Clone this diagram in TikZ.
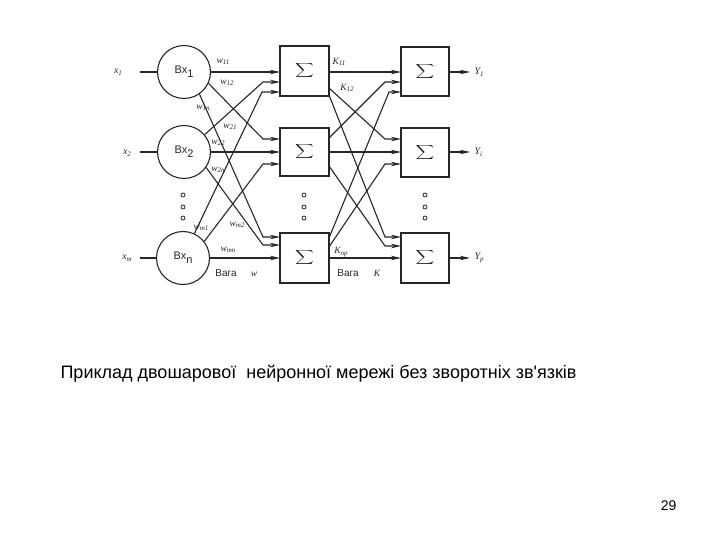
\documentclass[tikz,border=0pt]{standalone}
\usepackage{fontspec}
\usepackage{graphicx}
\setmainfont{Liberation Sans}
\newfontfamily\serifit{Liberation Serif}
\newfontfamily\capfont{Liberation Sans}
\usetikzlibrary{arrows.meta}
\newcommand{\sigsym}{\scalebox{1.3}[1.0]{$\displaystyle\sum$}}
\begin{document}
\begin{tikzpicture}[x=1pt,y=-1pt, line width=1.1pt, color=black!85,
  neuron/.style={circle, draw, minimum size=53pt, inner sep=0pt, font=\fontsize{11}{12}\selectfont},
  sumbox/.style={draw, minimum width=49pt, minimum height=49pt, inner sep=0pt, font=\fontsize{16}{18}\selectfont},
  conn/.style={-{Stealth[length=10pt,width=4.5pt]}},
  wlab/.style={font=\serifit\itshape\fontsize{9.5}{10}\selectfont, inner sep=0pt},
  iolab/.style={font=\serifit\itshape\fontsize{10}{11}\selectfont, inner sep=0pt},
  slab/.style={font=\fontsize{10}{11}\selectfont, inner sep=0pt},
  dotc/.style={circle, draw, line width=0.8pt, minimum size=4pt, inner sep=0pt}
]
\useasboundingbox (0,0) rectangle (720,540);

% input neurons
\node[neuron] (c1) at (184,72) {Bx\raisebox{-4pt}{1}};
\node[neuron] (c2) at (184,152) {Bx\raisebox{-4pt}{2}};
\node[neuron] (c3) at (183,258) {Bx\raisebox{-4pt}{n}};

% hidden sums
\node[sumbox, minimum height=50pt] (h1) at (304.5,71) {\sigsym};
\node[sumbox, minimum height=48pt] (h2) at (304.5,152) {\sigsym};
\node[sumbox, minimum height=50pt] (h3) at (304.5,258) {\sigsym};

% output sums
\node[sumbox, minimum width=48pt] (o1) at (425,71.5) {\sigsym};
\node[sumbox, minimum width=48pt] (o2) at (425,152.5) {\sigsym};
\node[sumbox, minimum width=48pt, minimum height=50pt] (o3) at (425,258) {\sigsym};

% input labels and lines
\node[iolab] (x1) at (118,72) {x\raisebox{-2pt}{\scriptsize 1}};
\node[iolab] (x2) at (127,153) {x\raisebox{-2pt}{\scriptsize 2}};
\node[iolab] (xm) at (127,258) {x\raisebox{-2pt}{\scriptsize m}};
\coordinate (x1s) at (140,72);
\coordinate (x2s) at (140,152);
\coordinate (xms) at (140,258);
\draw (x1s) -- (c1.west);
\draw (x2s) -- (c2.west);
\draw (xms) -- (c3.west);

% entry points of hidden boxes
\coordinate (h1a) at (280,72);  \coordinate (h1b) at (280,82);  \coordinate (h1c) at (280,92);
\coordinate (h2a) at (280,139); \coordinate (h2b) at (280,152); \coordinate (h2c) at (280,164);
\coordinate (h3a) at (280,237); \coordinate (h3b) at (280,245); \coordinate (h3c) at (280,258);
% entry points of output boxes
\coordinate (o1a) at (401,72);  \coordinate (o1b) at (401,82);  \coordinate (o1c) at (401,92);
\coordinate (o2a) at (401,139); \coordinate (o2b) at (401,152); \coordinate (o2c) at (401,164);
\coordinate (o3a) at (401,237); \coordinate (o3b) at (401,246); \coordinate (o3c) at (401,258);
% exit points of hidden boxes
\coordinate (h1x) at (329,72);  \coordinate (h1y) at (329,88);  \coordinate (h1z) at (329,95);
\coordinate (h2x) at (329,138); \coordinate (h2y) at (329,152); \coordinate (h2z) at (329,166);
\coordinate (h3x) at (329,238); \coordinate (h3y) at (329,247); \coordinate (h3z) at (329,258);

% first layer connections
\draw[conn] (c1.east |- h1a) -- (h1a);
\draw[conn] (c1.-25) -- ([xshift=-17pt]h2a) -- (h2a);
\draw[conn] (c1.-55) -- ([xshift=-17pt]h3a) -- (h3a);
\draw[conn] (c2.40) -- ([xshift=-17pt]h1b) -- (h1b);
\draw[conn] (c2.east |- h2b) -- (h2b);
\draw[conn] (c2.-35) -- ([xshift=-17pt]h3b) -- (h3b);
\draw[conn] (c3.65) -- ([xshift=-18pt]h1c) -- (h1c);
\draw[conn] (c3.38) -- ([xshift=-17pt]h2c) -- (h2c);
\draw[conn] (c3.east |- h3c) -- (h3c);

% second layer connections
\draw[conn] (h1x) -- (o1a);
\draw[conn] (h1y) -- ([xshift=-16pt]o2a) -- (o2a);
\draw[conn] (h1z) -- ([xshift=-16pt]o3a) -- (o3a);
\draw[conn] (h2x) -- ([xshift=-16pt]o1b) -- (o1b);
\draw[conn] (h2y) -- (o2b);
\draw[conn] (h2z) -- ([xshift=-16pt]o3b) -- (o3b);
\draw[conn] (h3x) -- ([xshift=-12pt]o1c) -- (o1c);
\draw[conn] (h3y) -- ([xshift=-16pt]o2c) -- (o2c);
\draw[conn] (h3z) -- (o3c);

% outputs
\coordinate (y1e) at (470,72);
\coordinate (y2e) at (470,152);
\coordinate (y3e) at (470,258);
\draw[conn] (o1.east |- y1e) -- (y1e);
\draw[conn] (o2.east |- y2e) -- (y2e);
\draw[conn] (o3.east |- y3e) -- (y3e);
\node[iolab, anchor=west] (Y1) at (474,72) {Y\raisebox{-2pt}{\scriptsize 1}};
\node[iolab, anchor=west] (Y2) at (474,152) {Y\raisebox{-2pt}{\scriptsize i}};
\node[iolab, anchor=west] (Y3) at (474,258) {Y\raisebox{-2pt}{\scriptsize p}};

% weight labels
\node[wlab] at (223,62) {w\raisebox{-1.5pt}{\scriptsize 11}};
\node[wlab] at (227,83) {w\raisebox{-1.5pt}{\scriptsize 12}};
\node[wlab] at (203,108) {w\raisebox{-1.5pt}{\scriptsize 1n}};
\node[wlab] at (230,127) {w\raisebox{-1.5pt}{\scriptsize 21}};
\node[wlab] at (218,143) {w\raisebox{-1.5pt}{\scriptsize 22}};
\node[wlab] at (218,170) {w\raisebox{-1.5pt}{\scriptsize 2n}};
\node[wlab] at (201,228) {w\raisebox{-1.5pt}{\scriptsize m1}};
\node[wlab] at (237,225) {w\raisebox{-1.5pt}{\scriptsize m2}};
\node[wlab] at (228,250) {w\raisebox{-1.5pt}{\scriptsize mn}};
\node[wlab] at (339,62) {K\raisebox{-1.5pt}{\scriptsize 11}};
\node[wlab] at (347,88) {K\raisebox{-1.5pt}{\scriptsize 12}};
\node[wlab] at (341,252) {K\raisebox{-1.5pt}{\scriptsize np}};

\node[slab] at (226,273) {Вага};
\node[wlab] at (254,274) {w};
\node[slab] at (348,273) {Вага};
\node[wlab] at (377,273) {K};

% dots
\foreach \yy in {195,207,218} {
  \node[dotc] at (183,\yy) {};
  \node[dotc] at (304,\yy) {};
  \node[dotc] at (425,\yy) {};
}

% caption and page number
\node[anchor=base west, inner sep=0pt, text=black, font=\capfont\fontsize{18}{21}\selectfont] (cap) at (60,378)
  {Приклад двошарової\ \ нейронної мережі без зворотніх зв'язків};
\node[anchor=base east, inner sep=0pt, text=black, font=\fontsize{14}{16}\selectfont] (pg) at (677,510) {29};
\end{tikzpicture}
\end{document}
